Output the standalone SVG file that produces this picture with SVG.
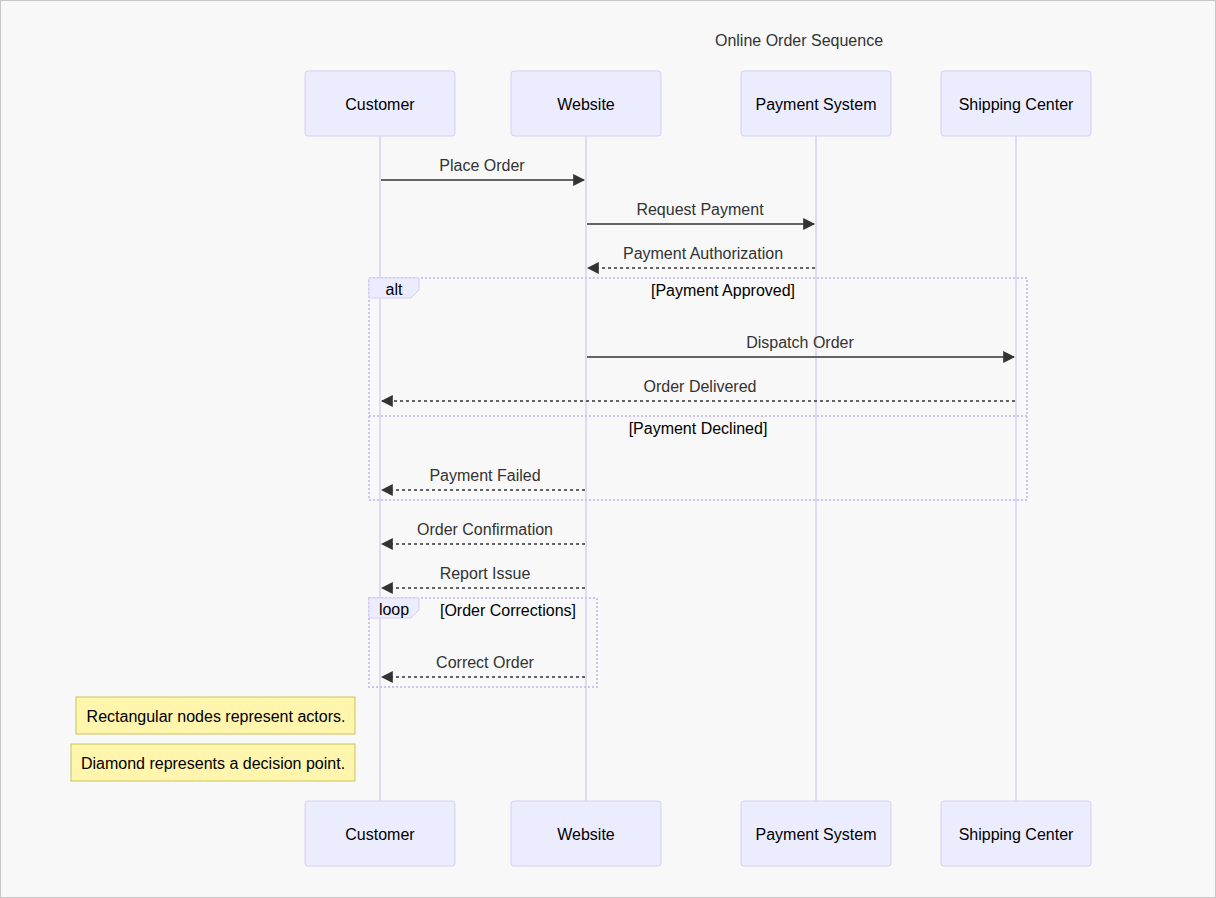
<svg xmlns="http://www.w3.org/2000/svg" width="1216" height="898" viewBox="0 0 1216 898">
  <style>
    text { font-family: "Liberation Sans", Arial, sans-serif; font-size: 16px; }
    .actor rect { fill: #ececff; stroke: #d8d0f4; stroke-width: 1; }
    .actor text { fill: #000; text-anchor: middle; dominant-baseline: central; }
    .lifeline { stroke: #d8d0f4; stroke-width: 1.5; }
    .msg { stroke: #333; stroke-width: 1.5; fill: none; }
    .dashed { stroke-dasharray: 3,3; }
    .msgText { fill: #333; text-anchor: middle; }
    .frame { fill: none; stroke: #cdc3f0; stroke-width: 2; stroke-dasharray: 2,2; }
    .tab { fill: #ececff; stroke: #d8d0f4; stroke-width: 1; }
    .tabText, .cond { fill: #000; text-anchor: middle; dominant-baseline: central; }
    .note rect { fill: #fff5ad; stroke: #c8c35a; stroke-width: 1; }
    .note text { fill: #000; text-anchor: middle; dominant-baseline: central; }
  </style>
  <defs>
    <marker id="arrowhead" viewBox="0 0 10 10" refX="9" refY="5" markerUnits="userSpaceOnUse" markerWidth="12" markerHeight="12" orient="auto">
      <path d="M0,0 L10,5 L0,10 z" fill="#333"/>
    </marker>
  </defs>

  <rect x="0.5" y="0.5" width="1215" height="897" fill="#f8f8f8" stroke="#c8c8c8"/>

  <text x="799" y="46" fill="#333" text-anchor="middle">Online Order Sequence</text>

  <!-- lifelines -->
  <g id="lifelines">
    <line class="lifeline" x1="380" y1="136" x2="380" y2="801"/>
    <line class="lifeline" x1="586" y1="136" x2="586" y2="801"/>
    <line class="lifeline" x1="816" y1="136" x2="816" y2="801"/>
    <line class="lifeline" x1="1016" y1="136" x2="1016" y2="801"/>
  </g>

  <!-- participants, top and bottom -->
  <g id="customer" class="actor">
    <rect x="305" y="71" width="150" height="65" rx="3"/>
    <text x="380" y="104">Customer</text>
    <rect x="305" y="801" width="150" height="65" rx="3"/>
    <text x="380" y="834">Customer</text>
  </g>
  <g id="website" class="actor">
    <rect x="511" y="71" width="150" height="65" rx="3"/>
    <text x="586" y="104">Website</text>
    <rect x="511" y="801" width="150" height="65" rx="3"/>
    <text x="586" y="834">Website</text>
  </g>
  <g id="payment-system" class="actor">
    <rect x="741" y="71" width="150" height="65" rx="3"/>
    <text x="816" y="104">Payment System</text>
    <rect x="741" y="801" width="150" height="65" rx="3"/>
    <text x="816" y="834">Payment System</text>
  </g>
  <g id="shipping-center" class="actor">
    <rect x="941" y="71" width="150" height="65" rx="3"/>
    <text x="1016" y="104">Shipping Center</text>
    <rect x="941" y="801" width="150" height="65" rx="3"/>
    <text x="1016" y="834">Shipping Center</text>
  </g>

  <!-- alt / loop frames -->
  <g id="alt-frame">
    <rect class="frame" x="369" y="278" width="658" height="222"/>
    <line class="frame" x1="369" y1="416" x2="1027" y2="416"/>
    <polygon class="tab" points="369,278 419,278 419,290 411,298 369,298"/>
    <text class="tabText" x="394" y="289">alt</text>
    <text class="cond" x="723" y="290">[Payment Approved]</text>
    <text class="cond" x="698" y="428">[Payment Declined]</text>
  </g>
  <g id="loop-frame">
    <rect class="frame" x="369" y="598" width="228" height="89"/>
    <polygon class="tab" points="369,598 419,598 419,610 411,618 369,618"/>
    <text class="tabText" x="394" y="609">loop</text>
    <text class="cond" x="508" y="610">[Order Corrections]</text>
  </g>

  <!-- messages -->
  <g id="connectors">
    <line class="msg" x1="381" y1="180" x2="584" y2="180" marker-end="url(#arrowhead)"/>
    <text class="msgText" x="482" y="171">Place Order</text>

    <line class="msg" x1="587" y1="224" x2="814" y2="224" marker-end="url(#arrowhead)"/>
    <text class="msgText" x="700" y="215">Request Payment</text>

    <line class="msg dashed" x1="815" y1="268" x2="588" y2="268" marker-end="url(#arrowhead)"/>
    <text class="msgText" x="703" y="259">Payment Authorization</text>

    <line class="msg" x1="587" y1="357" x2="1014" y2="357" marker-end="url(#arrowhead)"/>
    <text class="msgText" x="800" y="348">Dispatch Order</text>

    <line class="msg dashed" x1="1015" y1="401" x2="382" y2="401" marker-end="url(#arrowhead)"/>
    <text class="msgText" x="700" y="392">Order Delivered</text>

    <line class="msg dashed" x1="585" y1="490" x2="382" y2="490" marker-end="url(#arrowhead)"/>
    <text class="msgText" x="485" y="481">Payment Failed</text>

    <line class="msg dashed" x1="585" y1="544" x2="382" y2="544" marker-end="url(#arrowhead)"/>
    <text class="msgText" x="485" y="535">Order Confirmation</text>

    <line class="msg dashed" x1="585" y1="588" x2="382" y2="588" marker-end="url(#arrowhead)"/>
    <text class="msgText" x="485" y="579">Report Issue</text>

    <line class="msg dashed" x1="585" y1="677" x2="382" y2="677" marker-end="url(#arrowhead)"/>
    <text class="msgText" x="485" y="668">Correct Order</text>
  </g>

  <!-- notes -->
  <g id="note-actors" class="note">
    <rect x="76" y="697" width="279" height="37"/>
    <text x="216" y="716">Rectangular nodes represent actors.</text>
  </g>
  <g id="note-decision" class="note">
    <rect x="71" y="744" width="284" height="37"/>
    <text x="213" y="763">Diamond represents a decision point.</text>
  </g>
</svg>
